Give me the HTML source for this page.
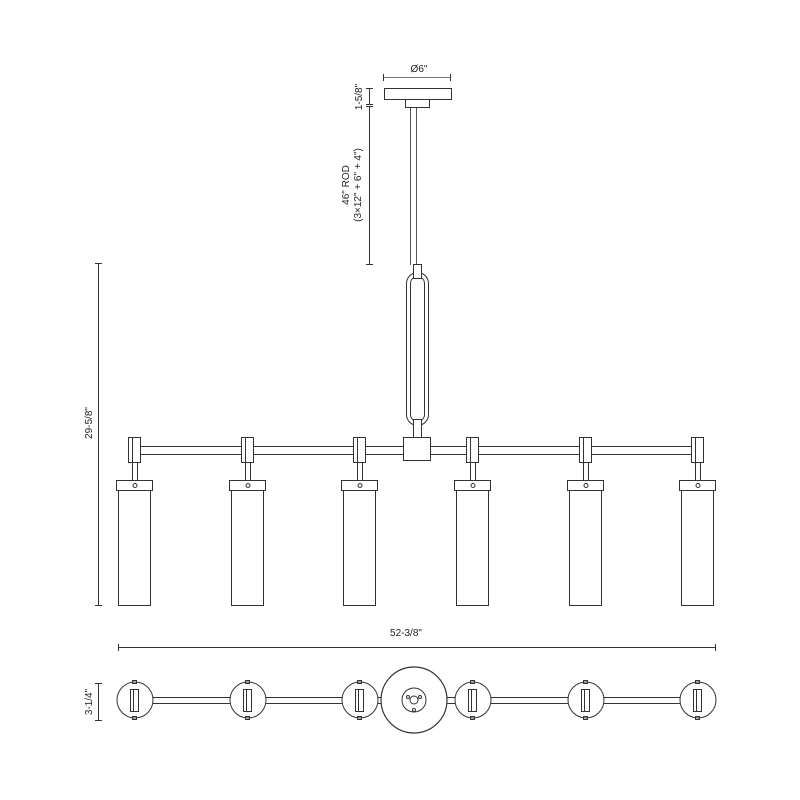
<!DOCTYPE html>
<html><head><style>body{margin:0;background:#fff}svg{display:block}text{font-family:"Liberation Sans",sans-serif;font-size:10px;fill:#222}</style></head>
<body>
<svg width="800" height="800" viewBox="0 0 800 800" xmlns="http://www.w3.org/2000/svg">
<g fill="none" stroke="#333" stroke-width="1">
<!-- canopy -->
<rect x="384.5" y="88.5" width="67" height="11"/>
<rect x="405.5" y="99.5" width="24" height="8"/>
<line x1="410.5" y1="108" x2="410.5" y2="265" stroke="#555"/>
<line x1="416.5" y1="108" x2="416.5" y2="265" stroke="#555"/>
<!-- dims top -->
<line x1="383" y1="77.5" x2="451" y2="77.5" stroke="#777"/>
<line x1="383.5" y1="74" x2="383.5" y2="81"/><line x1="450.5" y1="74" x2="450.5" y2="81"/>
<line x1="369.5" y1="88" x2="369.5" y2="104"/>
<line x1="366" y1="88.5" x2="373" y2="88.5"/><line x1="366" y1="104.5" x2="373" y2="104.5"/>
<line x1="369.5" y1="106" x2="369.5" y2="265"/>
<line x1="366" y1="106.5" x2="373" y2="106.5"/><line x1="366" y1="264.5" x2="373" y2="264.5"/>
<!-- link -->
<rect x="406.5" y="272.5" width="22" height="153" rx="11"/>
<rect x="410.5" y="276.5" width="14" height="145" rx="7"/>
<rect x="413.5" y="264.5" width="8" height="14" fill="#fff"/>
<rect x="413.5" y="419.5" width="8" height="18" fill="#fff"/>
<!-- bar -->
<rect x="140.5" y="446.5" width="554" height="8"/>
<rect x="403.5" y="437.5" width="27" height="23" fill="#fff"/>
<!-- left dim -->
<line x1="98.5" y1="263" x2="98.5" y2="606"/>
<line x1="95" y1="263.5" x2="102" y2="263.5"/><line x1="95" y1="605.5" x2="102" y2="605.5"/>
<line x1="118" y1="647.5" x2="716" y2="647.5"/>
<line x1="118.5" y1="644" x2="118.5" y2="651"/><line x1="715.5" y1="644" x2="715.5" y2="651"/>
<line x1="98.5" y1="683" x2="98.5" y2="721"/>
<line x1="95" y1="683.5" x2="102" y2="683.5"/><line x1="95" y1="720.5" x2="102" y2="720.5"/>
<!-- bottom view -->
<rect x="136" y="697.5" width="560" height="6" fill="#fff"/>
<circle cx="414" cy="700" r="33" fill="#fff" stroke-width="1.2"/>
<circle cx="414" cy="700" r="12"/>
<circle cx="414" cy="700" r="4"/>
<circle cx="408" cy="697" r="1.5"/><circle cx="420" cy="697" r="1.5"/><circle cx="414" cy="710" r="1.5"/>
</g>
<g fill="none" stroke="#333" stroke-width="1" id="fx">
</g>
<g fill="none" stroke="#333" stroke-width="1">
<!-- fixtures -->
<g transform="translate(135,0)"><rect x="-6.5" y="437.5" width="12" height="25" fill="#fff"/><line x1="-2.5" y1="437" x2="-2.5" y2="463"/><line x1="-2.5" y1="463" x2="-2.5" y2="480"/><line x1="2.5" y1="463" x2="2.5" y2="480"/><rect x="-18.5" y="480.5" width="36" height="10"/><circle cx="0" cy="485.5" r="2"/><rect x="-16.5" y="490.5" width="32" height="115"/><circle cx="0" cy="700" r="18" fill="#fff"/><rect x="-4.5" y="689.5" width="8" height="22"/><line x1="-1.5" y1="690" x2="-1.5" y2="711"/><rect x="-2.5" y="680.5" width="4" height="3"/><rect x="-2.5" y="716.5" width="4" height="3"/></g>
<g transform="translate(248,0)"><rect x="-6.5" y="437.5" width="12" height="25" fill="#fff"/><line x1="-2.5" y1="437" x2="-2.5" y2="463"/><line x1="-2.5" y1="463" x2="-2.5" y2="480"/><line x1="2.5" y1="463" x2="2.5" y2="480"/><rect x="-18.5" y="480.5" width="36" height="10"/><circle cx="0" cy="485.5" r="2"/><rect x="-16.5" y="490.5" width="32" height="115"/><circle cx="0" cy="700" r="18" fill="#fff"/><rect x="-4.5" y="689.5" width="8" height="22"/><line x1="-1.5" y1="690" x2="-1.5" y2="711"/><rect x="-2.5" y="680.5" width="4" height="3"/><rect x="-2.5" y="716.5" width="4" height="3"/></g>
<g transform="translate(360,0)"><rect x="-6.5" y="437.5" width="12" height="25" fill="#fff"/><line x1="-2.5" y1="437" x2="-2.5" y2="463"/><line x1="-2.5" y1="463" x2="-2.5" y2="480"/><line x1="2.5" y1="463" x2="2.5" y2="480"/><rect x="-18.5" y="480.5" width="36" height="10"/><circle cx="0" cy="485.5" r="2"/><rect x="-16.5" y="490.5" width="32" height="115"/><circle cx="0" cy="700" r="18" fill="#fff"/><rect x="-4.5" y="689.5" width="8" height="22"/><line x1="-1.5" y1="690" x2="-1.5" y2="711"/><rect x="-2.5" y="680.5" width="4" height="3"/><rect x="-2.5" y="716.5" width="4" height="3"/></g>
<g transform="translate(473,0)"><rect x="-6.5" y="437.5" width="12" height="25" fill="#fff"/><line x1="-2.5" y1="437" x2="-2.5" y2="463"/><line x1="-2.5" y1="463" x2="-2.5" y2="480"/><line x1="2.5" y1="463" x2="2.5" y2="480"/><rect x="-18.5" y="480.5" width="36" height="10"/><circle cx="0" cy="485.5" r="2"/><rect x="-16.5" y="490.5" width="32" height="115"/><circle cx="0" cy="700" r="18" fill="#fff"/><rect x="-4.5" y="689.5" width="8" height="22"/><line x1="-1.5" y1="690" x2="-1.5" y2="711"/><rect x="-2.5" y="680.5" width="4" height="3"/><rect x="-2.5" y="716.5" width="4" height="3"/></g>
<g transform="translate(586,0)"><rect x="-6.5" y="437.5" width="12" height="25" fill="#fff"/><line x1="-2.5" y1="437" x2="-2.5" y2="463"/><line x1="-2.5" y1="463" x2="-2.5" y2="480"/><line x1="2.5" y1="463" x2="2.5" y2="480"/><rect x="-18.5" y="480.5" width="36" height="10"/><circle cx="0" cy="485.5" r="2"/><rect x="-16.5" y="490.5" width="32" height="115"/><circle cx="0" cy="700" r="18" fill="#fff"/><rect x="-4.5" y="689.5" width="8" height="22"/><line x1="-1.5" y1="690" x2="-1.5" y2="711"/><rect x="-2.5" y="680.5" width="4" height="3"/><rect x="-2.5" y="716.5" width="4" height="3"/></g>
<g transform="translate(698,0)"><rect x="-6.5" y="437.5" width="12" height="25" fill="#fff"/><line x1="-2.5" y1="437" x2="-2.5" y2="463"/><line x1="-2.5" y1="463" x2="-2.5" y2="480"/><line x1="2.5" y1="463" x2="2.5" y2="480"/><rect x="-18.5" y="480.5" width="36" height="10"/><circle cx="0" cy="485.5" r="2"/><rect x="-16.5" y="490.5" width="32" height="115"/><circle cx="0" cy="700" r="18" fill="#fff"/><rect x="-4.5" y="689.5" width="8" height="22"/><line x1="-1.5" y1="690" x2="-1.5" y2="711"/><rect x="-2.5" y="680.5" width="4" height="3"/><rect x="-2.5" y="716.5" width="4" height="3"/></g>
</g>
<text x="419" y="72" text-anchor="middle">Ø6"</text>
<text transform="translate(362,97) rotate(-90)" text-anchor="middle">1-5/8"</text>
<text transform="translate(349,185) rotate(-90)" text-anchor="middle">46" ROD</text>
<text transform="translate(361,185) rotate(-90)" text-anchor="middle">(3×12" + 6" + 4")</text>
<text transform="translate(92,423) rotate(-90)" text-anchor="middle">29-5/8"</text>
<text x="406" y="636" text-anchor="middle">52-3/8"</text>
<text transform="translate(92,702) rotate(-90)" text-anchor="middle">3-1/4"</text>
</svg>
</body></html>
